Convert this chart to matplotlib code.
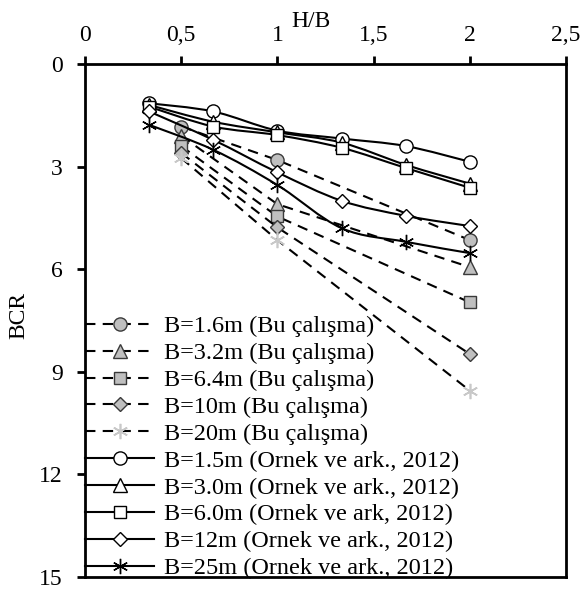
import matplotlib.pyplot as plt
from matplotlib.path import Path
from matplotlib.patches import PathPatch
from matplotlib.lines import Line2D

plt.rcParams['font.family'] = ['Liberation Serif', 'DejaVu Serif']

# H/B values
hb_bu = [0.5, 1.0, 2.0]
hb_ornek = [1/3, 2/3, 1.0, 4/3, 5/3, 2.0]

# BCR - this study
bcr_b16 = [1.83, 2.81, 5.15]
bcr_b32 = [2.10, 4.10, 5.94]
bcr_b64 = [2.40, 4.46, 6.97]
bcr_b10 = [2.60, 4.78, 8.48]
bcr_b20 = [2.75, 5.15, 9.55]

# BCR - Ornek et al. 2012
bcr_o15 = [1.15, 1.39, 1.95, 2.18, 2.40, 2.86]
bcr_o30 = [1.20, 1.69, 2.00, 2.30, 2.95, 3.50]
bcr_o60 = [1.25, 1.83, 2.08, 2.45, 3.04, 3.62]
bcr_o12 = [1.39, 2.22, 3.17, 4.00, 4.44, 4.74]
bcr_o25 = [1.78, 2.51, 3.54, 4.80, 5.20, 5.53]

xticks = [0, 0.5, 1, 1.5, 2, 2.5]
xticklabels = ['0', '0,5', '1', '1,5', '2', '2,5']
yticks = [0, 3, 6, 9, 12, 15]

grey = '#bfbfbf'
edge = '#3a3a3a'
star = (6, 2, 0)
fs = 17


def smooth_path(xs, ys):
    # Bezier segments through the points (Excel style smoothed line)
    pts = list(zip(xs, ys))
    n = len(pts)
    verts = [pts[0]]
    codes = [Path.MOVETO]
    for i in range(n - 1):
        p0 = pts[max(i - 1, 0)]
        p1 = pts[i]
        p2 = pts[i + 1]
        p3 = pts[min(i + 2, n - 1)]
        c1 = (p1[0] + (p2[0] - p0[0]) / 6, p1[1] + (p2[1] - p0[1]) / 6)
        c2 = (p2[0] - (p3[0] - p1[0]) / 6, p2[1] - (p3[1] - p1[1]) / 6)
        verts += [c1, c2, p2]
        codes += [Path.CURVE4] * 3
    return Path(verts, codes)


fig = plt.figure(figsize=(5.82, 5.92), dpi=100)
ax = fig.add_axes([0.146, 0.0253, 0.8265, 0.8667])

handles = []

dash_kw = dict(color='black', lw=1.5, dashes=(5, 3.5), mec=edge, mew=1.0)
bu_series = [
    (bcr_b16, 'o', 9.5, 'B=1.6m (Bu çalışma)'),
    (bcr_b32, '^', 9.5, 'B=3.2m (Bu çalışma)'),
    (bcr_b64, 's', 9, 'B=6.4m (Bu çalışma)'),
    (bcr_b10, 'D', 7.2, 'B=10m (Bu çalışma)'),
]
for ys, m, ms, lab in bu_series:
    h, = ax.plot(hb_bu, ys, marker=m, ms=ms, mfc=grey, label=lab, zorder=3, **dash_kw)
    handles.append(h)
h, = ax.plot(hb_bu, bcr_b20, marker=star, ms=11, color='black', lw=1.5, dashes=(5, 3.5),
             mec='#c8c8c8', mew=1.2, label='B=20m (Bu çalışma)', zorder=3)
handles.append(h)

ornek_series = [
    (bcr_o15, 'o', 9.5, 'B=1.5m (Ornek ve ark., 2012)'),
    (bcr_o30, '^', 9.5, 'B=3.0m (Ornek ve ark., 2012)'),
    (bcr_o60, 's', 9, 'B=6.0m (Ornek ve ark, 2012)'),
    (bcr_o12, 'D', 7.2, 'B=12m (Ornek ve ark., 2012)'),
    (bcr_o25, star, 11, 'B=25m (Ornek ve ark., 2012)'),
]
for ys, m, ms, lab in ornek_series:
    ax.add_patch(PathPatch(smooth_path(hb_ornek, ys), fill=False, lw=1.5,
                           edgecolor='black', zorder=3))
    ax.plot(hb_ornek, ys, ls='none', marker=m, ms=ms, mfc='white', mec='black',
            mew=1.0, zorder=4)
    handles.append(Line2D([], [], color='black', lw=1.5, marker=m, ms=ms,
                          mfc='white', mec='black', mew=1.0, label=lab))

ax.set_xlim(0, 2.5)
ax.set_ylim(15, 0)
ax.xaxis.tick_top()
ax.set_xticks(xticks)
ax.set_xticklabels(xticklabels)
ax.set_yticks(yticks)
ax.tick_params(axis='both', direction='out', length=6, width=2, labelsize=fs, color='black')
ax.tick_params(axis='x', pad=7)
ax.tick_params(axis='y', pad=10)
for sp in ax.spines.values():
    sp.set_linewidth(2)

ax.set_xlabel('H/B', fontsize=fs, va='center')
ax.xaxis.set_label_position('top')
ax.xaxis.set_label_coords(0.47, 1.072)
ax.set_ylabel('BCR', fontsize=fs, va='center')
ax.yaxis.set_label_coords(-0.137, 0.51)

ax.legend(handles=handles, loc='upper left', bbox_to_anchor=(0.0, 0.51), frameon=False,
          fontsize=17.5, handlelength=2.85, handletextpad=0.4, labelspacing=0.2,
          borderpad=0, borderaxespad=0)

fig.savefig('out.png', dpi=100)
